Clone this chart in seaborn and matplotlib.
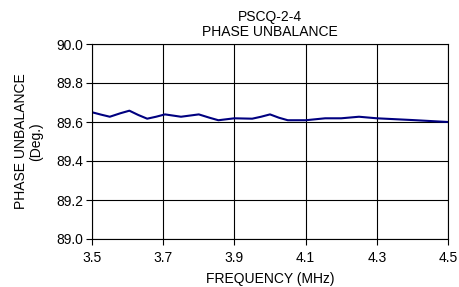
import matplotlib
matplotlib.use("Agg")
import matplotlib.pyplot as plt
import seaborn as sns
import pandas as pd

freq = [3.50, 3.525, 3.55, 3.58, 3.605, 3.63, 3.655, 3.68, 3.705, 3.75, 3.80, 3.83, 3.855, 3.90,
        3.95, 3.975, 4.00, 4.025, 4.05, 4.10, 4.155, 4.20, 4.25, 4.30, 4.40, 4.50]
phase = [89.650, 89.638, 89.627, 89.645, 89.658, 89.636, 89.617, 89.627, 89.639, 89.627, 89.639,
         89.622, 89.609, 89.619, 89.617, 89.627, 89.639, 89.622, 89.609, 89.609, 89.619, 89.619,
         89.627, 89.619, 89.610, 89.600]
x_ticks = [3.5, 3.7, 3.9, 4.1, 4.3, 4.5]
y_ticks = [89.0, 89.2, 89.4, 89.6, 89.8, 90.0]

df = pd.DataFrame({"freq": freq, "phase": phase})

sns.set_theme(style="ticks", rc={"text.color": "black", "axes.labelcolor": "black",
                                 "xtick.color": "black", "ytick.color": "black"})
plt.rcParams['font.family'] = ['Liberation Sans', 'DejaVu Sans']

fig = plt.figure(figsize=(4.59, 2.87), dpi=100)
ax = fig.add_axes([92/459, 1-239/287, (448-92)/459, (239-44)/287])

sns.lineplot(data=df, x="freq", y="phase", ax=ax, color="#000080", linewidth=1.5)

ax.set_xlim(3.5, 4.5)
ax.set_ylim(89.0, 90.0)
ax.set_xticks(x_ticks)
ax.set_yticks(y_ticks)
ax.set_xticklabels([f"{v:.1f}" for v in x_ticks], fontsize=10)
ax.set_yticklabels([f"{v:.1f}" for v in y_ticks], fontsize=10)
ax.grid(True, color="black", linewidth=0.8)
for s in ax.spines.values():
    s.set_visible(True)
    s.set_color("black")
    s.set_linewidth(0.8)
ax.tick_params(axis="both", bottom=True, left=True, direction="out", length=4,
               width=0.8, color="black", pad=2)
ax.tick_params(axis="x", pad=5)
ax.set_xlabel("FREQUENCY (MHz)", fontsize=10, labelpad=5)
ax.set_ylabel("PHASE UNBALANCE\n(Deg.)", fontsize=10, labelpad=10, linespacing=1.1)
ax.set_title("PSCQ-2-4\nPHASE UNBALANCE", fontsize=10, pad=6, linespacing=1.1)

fig.savefig("out.png", dpi=100, facecolor="white")
